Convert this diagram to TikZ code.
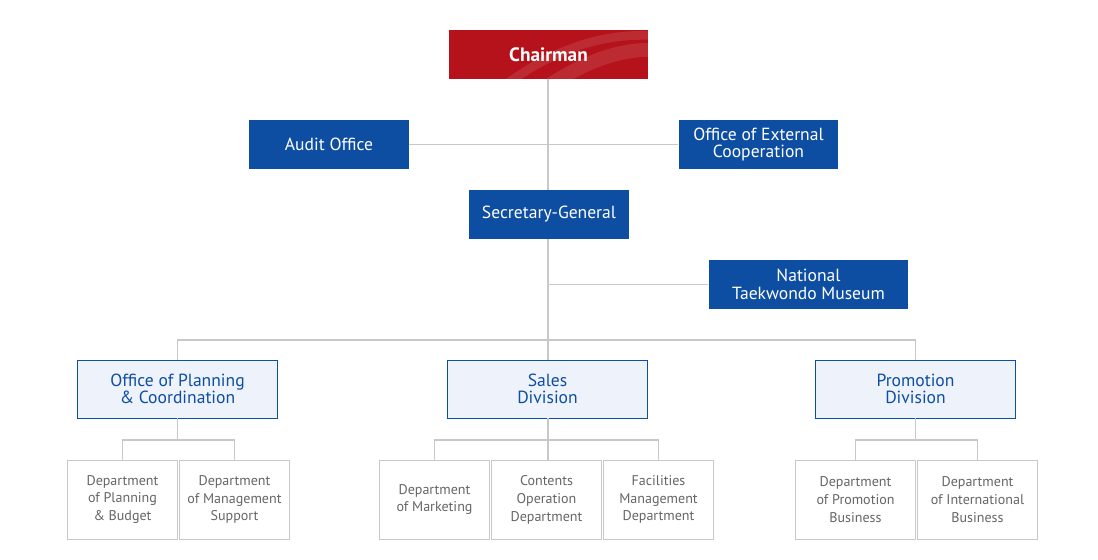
\documentclass[tikz,border=0pt]{standalone}
\usepackage{fontspec}
\setmainfont{PT Sans}
\usepackage{xcolor}
\definecolor{chairred}{HTML}{B5121B}
\definecolor{orgblue}{HTML}{0D4EA2}
\definecolor{orgpale}{HTML}{EEF2FA}
\definecolor{orgline}{HTML}{C8C8C8}
\definecolor{orggray}{HTML}{666666}

\tikzset{
  chairbox/.style={fill=chairred, text=white, minimum width=4cm, minimum height=0.98cm,
    inner sep=0pt, font=\fontsize{11}{11}\selectfont\bfseries},
  headbox/.style={fill=orgblue, text=white, minimum height=0.98cm, inner sep=0pt,
    align=center, font=\fontsize{10}{10}\selectfont},
  divbox/.style={draw=orgblue, fill=orgpale, text=orgblue, minimum width=4cm,
    minimum height=1.16cm, inner sep=0pt, align=center, font=\fontsize{10}{10}\selectfont},
  deptbox/.style={draw=orgline, fill=white, text=orggray, minimum width=2.2cm,
    minimum height=1.58cm, inner sep=0pt, align=center, font=\fontsize{8}{10.2}\selectfont},
  link/.style={draw=orgline, line width=0.6pt}
}

\begin{document}
\begin{tikzpicture}[x=0.02cm, y=-0.02cm]
  \useasboundingbox (0,0) rectangle (1098,560);

  % top of the chart
  \node[chairbox] (chair) at (548.5,54.5) {};
  \begin{scope}
    \clip (chair.south west) rectangle (chair.north east);
    \draw[white, opacity=0.1, line width=5pt] (505,85) .. controls (560,45) and (610,32) .. (660,36);
    \draw[white, opacity=0.1, line width=8pt] (545,88) .. controls (590,58) and (625,48) .. (660,50);
  \end{scope}
  \node[chairbox, fill=none] at (chair.center) {Chairman};
  \node[headbox, minimum width=3.2cm] (audit) at (329,144.5) {Audit Office};
  \node[headbox, minimum width=3.2cm] (extcoop) at (758.5,144.5) {Office of External\\Cooperation};
  \node[headbox, minimum width=3.2cm] (secgen) at (549,214.5) {Secretary-General};
  \node[headbox, minimum width=4cm] (museum) at (808.5,284.5) {National\\Taekwondo Museum};

  % divisions
  \node[divbox] (planning) at (177.5,389) {Office of Planning\\\& Coordination};
  \node[divbox] (sales) at (547.5,389) {Sales\\Division};
  \node[divbox] (promo) at (915.5,389) {Promotion\\Division};

  % departments
  \node[deptbox] (plan1) at (122.5,499.5) {Department\\of Planning\\\& Budget};
  \node[deptbox] (plan2) at (234.5,499.5) {Department\\of Management\\Support};
  \node[deptbox] (sales1) at (434.5,499.5) {Department\\of Marketing};
  \node[deptbox] (sales2) at (546.5,499.5) {Contents\\Operation\\Department};
  \node[deptbox] (sales3) at (658.5,499.5) {Facilities\\Management\\Department};
  \node[deptbox, minimum width=2.4cm] (promo1) at (855.5,499.5) {Department\\of Promotion\\Business};
  \node[deptbox, minimum width=2.4cm] (promo2) at (977.5,499.5) {Department\\of International\\Business};

  \coordinate (hub) at (548,340);
  \coordinate (planjoin) at (planning.south |- 0,440);
  \coordinate (salesjoin) at (548,440);
  \coordinate (promojoin) at (promo.south |- 0,440);

  % connectors
  \draw[link] (chair.south -| hub) -- (secgen.north -| hub);
  \draw[link] (secgen.south -| hub) -- (hub);
  \draw[link] (audit.east) -- (extcoop.west);
  \draw[link] (museum.west) -- (museum.west -| hub);
  \draw[link] (hub) -| (planning.north);
  \draw[link] (hub) -- (sales.north -| hub);
  \draw[link] (hub) -| (promo.north);

  \draw[link] (planning.south) -- (planjoin);
  \draw[link] (plan1.north) |- (planjoin) -| (plan2.north);
  \draw[link] (sales.south -| salesjoin) -- (sales2.north -| salesjoin);
  \draw[link] (sales1.north) |- (salesjoin) -| (sales3.north);
  \draw[link] (promo.south) -- (promojoin);
  \draw[link] (promo1.north) |- (promojoin) -| (promo2.north);
\end{tikzpicture}
\end{document}
